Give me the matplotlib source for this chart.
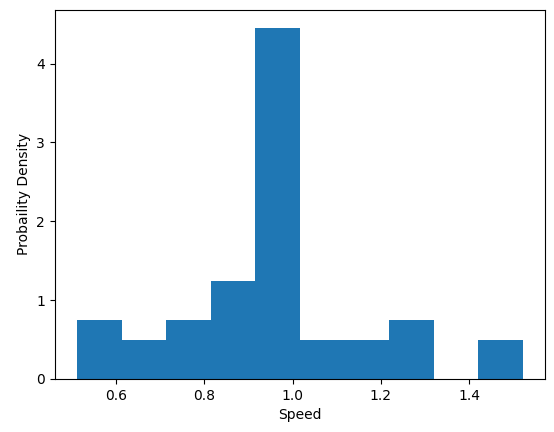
import matplotlib.pyplot as plt
import numpy as np

# histogram bin edges and counts
bin_edges = np.linspace(0.512, 1.5215, 11)
counts = [3, 2, 3, 5, 18, 2, 2, 3, 0, 2]

plt.figure(figsize=(5.54, 4.32), dpi=100)
plt.hist(bin_edges[:-1], bins=bin_edges, weights=counts, density=True, color="#1f77b4")
plt.xlabel("Speed")
plt.ylabel("Probaility Density")
plt.subplots_adjust(left=0.099, right=0.984, top=0.977, bottom=0.123)
plt.savefig("out.png")
plt.close()
